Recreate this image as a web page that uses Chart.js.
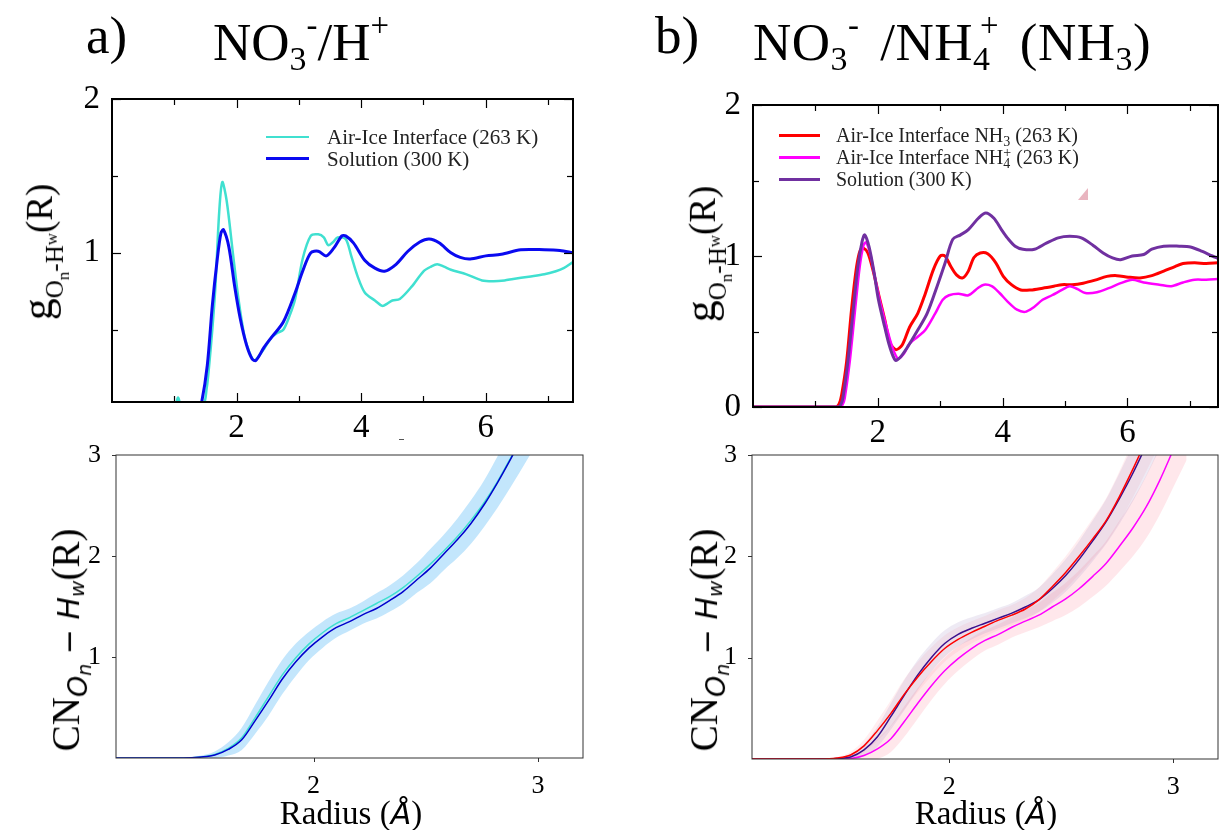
<!DOCTYPE html>
<html><head><meta charset="utf-8">
<script src="https://cdn.jsdelivr.net/npm/chart.js@4.4.1/dist/chart.umd.min.js"></script>
<style>
html,body{margin:0;padding:0;background:#fff;}
#wrap{position:relative;width:1220px;height:830px;overflow:hidden;font-family:"Liberation Serif","Times New Roman",serif;color:#000;}
canvas{position:absolute;left:0;top:0;pointer-events:none;}
.t{position:absolute;white-space:nowrap;line-height:1;}
.big{font-size:53px;}
.sb{font-size:0.64em;vertical-align:-0.3em;}
.sp{font-size:0.62em;vertical-align:0.72em;}
.yt{position:absolute;white-space:nowrap;line-height:1;transform:translate(-50%,-50%) rotate(-90deg);}
.lg{position:absolute;white-space:nowrap;line-height:20px;color:#222;}
.ln{position:absolute;}
.m{font-family:"DejaVu Sans",sans-serif;font-style:italic;}
.xt{position:absolute;white-space:nowrap;line-height:1;font-size:33px;transform:translate(-50%,-50%);}
.stk{display:inline-block;vertical-align:-0.25em;line-height:0.75;font-size:0.7em;text-align:left;}
</style></head><body><div id="wrap">
<canvas id="c1" width="1220" height="830"></canvas>
<canvas id="c2" width="1220" height="830"></canvas>
<canvas id="c3" width="1220" height="830"></canvas>
<canvas id="c4" width="1220" height="830"></canvas>

<div class="t big" style="left:86px;top:9px;">a)</div>
<div class="t big" style="left:213px;top:9px;">NO<span class="sb">3</span><span class="sp">-</span>/H<span class="sp">+</span></div>
<div class="t big" style="left:655px;top:9px;">b)</div>
<div class="t big" style="left:753px;top:9px;word-spacing:7px;letter-spacing:0.5px;">NO<span class="sb">3</span><span class="sp">-</span> /NH<span class="sb">4</span><span class="sp" style="margin-left:-0.32em">+</span> (NH<span class="sb">3</span>)</div>

<div class="yt" style="left:44px;top:252px;font-size:37px;"><span style="font-size:44px">g</span><span style="font-size:25px;vertical-align:-0.45em">O<span style="font-size:17px;vertical-align:-0.35em">n</span>-H<span style="font-size:17px;vertical-align:0.35em">w</span></span>(R)</div>
<div class="yt" style="left:707px;top:254px;font-size:37px;"><span style="font-size:44px">g</span><span style="font-size:25px;vertical-align:-0.45em">O<span style="font-size:17px;vertical-align:-0.35em">n</span>-H<span style="font-size:17px;vertical-align:0.35em">w</span></span>(R)</div>
<div class="yt" style="left:70px;top:640px;font-size:39px;">CN<span class="m" style="font-size:27px;vertical-align:-0.3em">O<span style="font-size:19px;vertical-align:-0.2em">n</span></span><span class="m" style="font-size:30px"> − H<span style="font-size:20px;vertical-align:-0.25em">w</span></span>(R)</div>
<div class="yt" style="left:708px;top:640px;font-size:39px;">CN<span class="m" style="font-size:27px;vertical-align:-0.3em">O<span style="font-size:19px;vertical-align:-0.2em">n</span></span><span class="m" style="font-size:30px"> − H<span style="font-size:20px;vertical-align:-0.25em">w</span></span>(R)</div>

<div class="xt" style="left:351px;top:813px;">Radius (<span class="m" style="font-size:30px">Å</span>)</div>
<div class="xt" style="left:986px;top:813px;">Radius (<span class="m" style="font-size:30px">Å</span>)</div>

<div class="ln" style="left:266px;top:136px;width:43px;height:2px;background:#40E0D0"></div>
<div class="lg" style="left:327px;top:127px;font-size:21px;">Air-Ice Interface (263 K)</div>
<div class="ln" style="left:266px;top:157px;width:43px;height:3px;background:#0A0AF0"></div>
<div class="lg" style="left:327px;top:149px;font-size:21px;">Solution (300 K)</div>

<div class="ln" style="left:779px;top:134px;width:41px;height:3px;background:#FF0000"></div>
<div class="lg" style="left:836px;top:125px;font-size:20px;">Air-Ice Interface NH<span style="font-size:14px;vertical-align:-0.3em">3</span> (263 K)</div>
<div class="ln" style="left:779px;top:156px;width:41px;height:3px;background:#FF00FF"></div>
<div class="lg" style="left:836px;top:147px;font-size:20px;">Air-Ice Interface NH<span class="stk">+<br>4</span> (263 K)</div>
<div class="ln" style="left:779px;top:178px;width:41px;height:3px;background:#7030A0"></div>
<div class="lg" style="left:836px;top:169px;font-size:20px;">Solution (300 K)</div>

<div style="position:absolute;left:399px;top:439px;width:5px;height:1px;background:#555"></div>
<div style="position:absolute;left:1078px;top:188px;width:0;height:0;border-left:10px solid transparent;border-bottom:12px solid rgba(215,120,140,0.55)"></div>
</div>
<script>
// ---------- DATA ----------
// Panel a) top: g(R) vs R (Å)
const gTL_airIce = [[0,0],[1.0,0],[1.06,0.06],[1.12,0],[1.45,0],[1.52,0.12],[1.56,0.27],[1.61,0.5],[1.66,0.78],[1.72,1.26],[1.77,1.46],[1.84,1.34],[1.94,1.0],[2.03,0.7],[2.125,0.46],[2.2,0.36],[2.28,0.3],[2.36,0.33],[2.44,0.375],[2.56,0.45],[2.66,0.48],[2.75,0.5],[2.85,0.59],[2.94,0.7],[3.06,0.96],[3.19,1.11],[3.31,1.12],[3.4,1.1],[3.47,1.05],[3.55,1.07],[3.62,1.1],[3.75,1.09],[3.84,0.98],[3.94,0.85],[4.06,0.74],[4.22,0.69],[4.34,0.655],[4.42,0.67],[4.5,0.69],[4.62,0.7],[4.81,0.78],[5.0,0.88],[5.12,0.91],[5.22,0.925],[5.33,0.91],[5.44,0.89],[5.69,0.86],[5.94,0.82],[6.125,0.815],[6.3,0.82],[6.44,0.83],[6.69,0.845],[6.94,0.86],[7.125,0.88],[7.25,0.9],[7.4,0.94]];
const gTL_solution = [[0,0],[1.4,0],[1.44,0.03],[1.53,0.27],[1.61,0.655],[1.69,0.96],[1.75,1.13],[1.79,1.15],[1.875,1.04],[1.97,0.78],[2.06,0.57],[2.16,0.4],[2.25,0.31],[2.31,0.3],[2.44,0.385],[2.56,0.45],[2.75,0.55],[2.94,0.74],[3.06,0.88],[3.19,1.0],[3.31,1.01],[3.44,0.98],[3.56,1.03],[3.69,1.11],[3.75,1.11],[3.875,1.065],[4.06,0.95],[4.22,0.9],[4.375,0.88],[4.56,0.925],[4.75,1.01],[4.94,1.07],[5.09,1.09],[5.25,1.065],[5.44,1.0],[5.59,0.97],[5.75,0.96],[6.0,0.98],[6.25,0.99],[6.56,1.02],[6.94,1.02],[7.19,1.015],[7.4,1.0]];
// Panel b) top
const gTR_NH3 = [[0,0],[1.33,0],[1.38,0.02],[1.42,0.08],[1.5,0.3],[1.58,0.65],[1.66,0.93],[1.72,1.04],[1.775,1.05],[1.84,1.02],[1.92,0.91],[2.01,0.75],[2.11,0.58],[2.2,0.42],[2.29,0.38],[2.39,0.41],[2.51,0.53],[2.64,0.62],[2.76,0.75],[2.89,0.91],[3.0,1.0],[3.075,1.0],[3.17,0.93],[3.26,0.875],[3.36,0.855],[3.45,0.9],[3.54,0.99],[3.64,1.02],[3.76,1.015],[3.89,0.955],[4.01,0.865],[4.14,0.81],[4.29,0.775],[4.45,0.775],[4.64,0.787],[4.82,0.8],[4.95,0.81],[5.11,0.81],[5.29,0.82],[5.48,0.84],[5.67,0.865],[5.83,0.87],[6.01,0.86],[6.2,0.855],[6.39,0.87],[6.58,0.9],[6.76,0.93],[6.89,0.95],[7.075,0.955],[7.26,0.95],[7.45,0.955]];
const gTR_NH4 = [[0,0],[1.4,0],[1.44,0.02],[1.47,0.06],[1.55,0.3],[1.63,0.62],[1.71,0.93],[1.77,1.07],[1.81,1.09],[1.875,1.02],[1.95,0.865],[2.04,0.69],[2.14,0.53],[2.23,0.4],[2.325,0.32],[2.42,0.355],[2.51,0.42],[2.64,0.465],[2.76,0.51],[2.92,0.62],[3.04,0.71],[3.14,0.74],[3.29,0.75],[3.45,0.74],[3.61,0.79],[3.7,0.81],[3.825,0.8],[3.95,0.755],[4.075,0.7],[4.23,0.645],[4.36,0.63],[4.48,0.655],[4.64,0.71],[4.79,0.74],[4.95,0.775],[5.075,0.8],[5.2,0.78],[5.325,0.755],[5.51,0.76],[5.7,0.787],[5.89,0.82],[6.075,0.843],[6.26,0.825],[6.51,0.81],[6.7,0.8],[6.89,0.825],[7.075,0.843],[7.26,0.843],[7.45,0.847]];
const gTR_solution = [[0,0],[1.37,0],[1.41,0.02],[1.44,0.06],[1.52,0.3],[1.6,0.62],[1.68,0.93],[1.75,1.1],[1.79,1.14],[1.86,1.06],[1.94,0.89],[2.01,0.71],[2.11,0.53],[2.19,0.4],[2.28,0.31],[2.36,0.33],[2.48,0.4],[2.64,0.51],[2.79,0.62],[2.95,0.8],[3.075,0.95],[3.2,1.11],[3.325,1.14],[3.45,1.175],[3.61,1.25],[3.73,1.285],[3.86,1.25],[3.98,1.175],[4.075,1.12],[4.2,1.065],[4.325,1.045],[4.51,1.045],[4.7,1.085],[4.89,1.12],[5.075,1.13],[5.26,1.12],[5.45,1.07],[5.61,1.02],[5.76,0.987],[5.89,0.975],[6.075,1.0],[6.26,1.01],[6.39,1.045],[6.58,1.065],[6.83,1.065],[7.01,1.06],[7.2,1.03],[7.36,1.0],[7.45,0.985]];

// Bottom panels: CN(R) on a common radius grid (Å)
const radius = [1.12,1.3,1.42,1.5,1.56,1.62,1.68,1.74,1.8,1.86,1.92,1.98,2.04,2.1,2.16,2.22,2.28,2.34,2.4,2.46,2.52,2.58,2.64,2.7,2.76,2.82,2.88,2.94,3.0,3.06];
const cnL_solution = [0,0,0,0.01,0.03,0.085,0.18,0.37,0.57,0.78,0.95,1.09,1.2,1.29,1.35,1.42,1.48,1.56,1.65,1.765,1.88,2.02,2.16,2.32,2.51,2.73,2.97,3.22,3.48,3.75];
const cnL_airIce  = [0,0,0,0.01,0.035,0.095,0.2,0.4,0.61,0.82,0.99,1.13,1.24,1.33,1.39,1.46,1.53,1.6,1.69,1.8,1.92,2.05,2.19,2.35,2.53,2.74,2.98,3.23,3.49,3.76];
const cnL_spread  = [0,0,0.005,0.015,0.03,0.06,0.1,0.13,0.15,0.15,0.14,0.12,0.11,0.1,0.09,0.09,0.1,0.11,0.12,0.13,0.15,0.16,0.18,0.2,0.22,0.25,0.28,0.31,0.34,0.37];
const cnR_NH3      = [0,0,0,0.01,0.04,0.13,0.28,0.45,0.64,0.81,0.96,1.09,1.18,1.25,1.31,1.37,1.42,1.48,1.57,1.7,1.84,2.0,2.17,2.35,2.59,2.86,3.15,3.45,3.75,4.05];
const cnR_solution = [0,0,0,0.005,0.02,0.09,0.22,0.42,0.63,0.83,1.0,1.14,1.23,1.29,1.34,1.39,1.44,1.5,1.57,1.68,1.81,1.97,2.15,2.34,2.57,2.82,3.1,3.4,3.7,4.0];
const cnR_NH4      = [0,0,0,0,0.005,0.035,0.1,0.2,0.37,0.55,0.72,0.87,0.99,1.09,1.17,1.23,1.3,1.36,1.42,1.5,1.58,1.68,1.8,1.93,2.1,2.28,2.49,2.75,3.05,3.35];
const cnR_spread   = [0,0,0.005,0.01,0.03,0.06,0.1,0.13,0.15,0.15,0.14,0.13,0.12,0.11,0.1,0.1,0.1,0.11,0.12,0.14,0.16,0.18,0.2,0.22,0.25,0.28,0.31,0.34,0.37,0.4];

// Tick values and labels
const gXMajor = [2,4,6], gXMinor = [1,3,5,7];
const gYMajorA = [1,2], gYMajorB = [0,1,2], gYMinor = [0.5,1.5];
const cnXTicks = [2,3], cnYTicks = [1,2,3];

// ---------- CHARTS ----------
const serif = "'Liberation Serif','Times New Roman',serif";
const pts = arr => arr.map(p => ({x:p[0], y:p[1]}));
const onGrid = vals => radius.map((x,i) => ({x, y: vals[i]}));

function axis(min, max, step, labels, size, pad, isX, fit){
  return {type:'linear', min, max,
    afterFit: s => { if (isX) s.height = fit; else s.width = fit; },
    grid:{display:false}, border:{display:false},
    ticks:{stepSize:step, includeBounds:false, autoSkip:false, maxRotation:0, minRotation:0, padding:pad,
      color:'#000', font:{family:serif, size},
      callback: v => labels.includes(v) ? String(v) : ''}};
}

const frameTicks = {
  id:'frameTicks',
  afterDatasetsDraw(chart, args, o){
    const {ctx, chartArea:a, scales} = chart;
    ctx.save();
    ctx.strokeStyle = o.color;
    ctx.lineWidth = o.tickLw;
    const d = o.inward ? 1 : -1;
    const seg = (x1,y1,x2,y2) => { ctx.beginPath(); ctx.moveTo(x1,y1); ctx.lineTo(x2,y2); ctx.stroke(); };
    o.x.forEach(([v,len]) => { const p = Math.round(scales.x.getPixelForValue(v))+0.5;
      seg(p, a.bottom, p, a.bottom - d*len); if (o.all) seg(p, a.top, p, a.top + d*len); });
    o.y.forEach(([v,len]) => { const p = Math.round(scales.y.getPixelForValue(v))+0.5;
      seg(a.left, p, a.left + d*len, p); if (o.all) seg(a.right, p, a.right - d*len, p); });
    ctx.lineWidth = o.lw;
    ctx.strokeRect(a.left, a.top, a.right-a.left, a.bottom-a.top);
    ctx.restore();
  }
};

function lineDs(data, color, w, extra){
  return Object.assign({data, borderColor:color, borderWidth:w, pointRadius:0, fill:false, tension:0.3}, extra||{});
}
function band(upper, lower, spread, color){
  return [
    {data: radius.map((x,i)=>({x, y: upper[i]+spread[i]})), fill:'+1', backgroundColor:color, borderWidth:0, pointRadius:0, cubicInterpolationMode:'monotone'},
    {data: radius.map((x,i)=>({x, y: lower[i]-spread[i]})), fill:false, borderWidth:0, pointRadius:0, cubicInterpolationMode:'monotone'}
  ];
}
function make(id, datasets, scales, padding, ft){
  return new Chart(document.getElementById(id), {
    type:'line',
    data:{datasets},
    options:{responsive:false, animation:false, devicePixelRatio:1, events:[],
      layout:{padding},
      plugins:{legend:{display:false}, tooltip:{enabled:false}, frameTicks:ft},
      scales},
    plugins:[frameTicks]
  });
}

const tickList = (maj, min, lm, ln) => maj.map(v=>[v,lm]).concat(min.map(v=>[v,ln]));

// a) top
make('c1', [
  lineDs(pts(gTL_solution), '#0A0AF0', 3),
  lineDs(pts(gTL_airIce), '#40E0D0', 2.5)
], {
  x: axis(0, 7.4, 1, gXMajor, 33, -1, true, 50),
  y: axis(0.03, 2, 0.5, gYMajorA, 33, 4, false, 60)
}, {left:52, right:647, top:99, bottom:378},
{color:'#000', lw:2, tickLw:1.2, inward:true, all:true,
 x: tickList(gXMajor, gXMinor, 9, 6), y: tickList(gYMajorA, gYMinor, 9, 6)});

// b) top
make('c2', [
  lineDs(pts(gTR_solution), '#7030A0', 3),
  lineDs(pts(gTR_NH4), '#FF00FF', 2.5),
  lineDs(pts(gTR_NH3), '#FF0000', 3)
], {
  x: axis(0, 7.45, 1, gXMajor, 33, -1, true, 50),
  y: axis(0, 2, 0.5, gYMajorB, 33, 4, false, 60)
}, {left:693, right:2, top:105, bottom:373},
{color:'#000', lw:2, tickLw:1.2, inward:true, all:true,
 x: tickList(gXMajor, gXMinor, 9, 6), y: tickList(gYMajorB, gYMinor, 9, 6)});

// a) bottom
make('c3', [
  lineDs(onGrid(cnL_solution), '#0000CD', 1.5, {tension:0, cubicInterpolationMode:'monotone'}),
  lineDs(onGrid(cnL_airIce), '#40E0D0', 1.5, {tension:0, cubicInterpolationMode:'monotone'}),
  ...band(cnL_airIce, cnL_solution, cnL_spread, 'rgba(135,206,250,0.5)')
], {
  x: axis(1.12, 3.2, 1, cnXTicks, 26, 5, true, 50),
  y: axis(0, 3, 1, cnYTicks, 26, 7, false, 60)
}, {left:56, right:637, top:455, bottom:22},
{color:'#333', lw:1, tickLw:1, inward:false, all:false,
 x: tickList(cnXTicks, [], 4, 0), y: tickList(cnYTicks, [], 4, 0)});

// b) bottom
make('c4', [
  lineDs(onGrid(cnR_NH3), '#FF0000', 1.5, {tension:0, cubicInterpolationMode:'monotone'}),
  lineDs(onGrid(cnR_solution), '#3B0F8C', 1.5, {tension:0, cubicInterpolationMode:'monotone'}),
  lineDs(onGrid(cnR_NH4), '#FF00FF', 1.5, {tension:0, cubicInterpolationMode:'monotone'}),
  ...band(cnR_solution, cnR_solution, cnR_spread, 'rgba(170,150,200,0.2)'),
  ...band(cnR_NH3, cnR_NH3, cnR_spread, 'rgba(255,150,160,0.16)'),
  ...band(cnR_NH4, cnR_NH4, cnR_spread, 'rgba(255,160,175,0.25)')
], {
  x: axis(1.12, 3.2, 1, cnXTicks, 26, 5, true, 50),
  y: axis(0, 3, 1, cnYTicks, 26, 7, false, 60)
}, {left:692, right:2, top:455, bottom:21},
{color:'#333', lw:1, tickLw:1, inward:false, all:false,
 x: tickList(cnXTicks, [], 4, 0), y: tickList(cnYTicks, [], 4, 0)});
</script>
</body></html>
